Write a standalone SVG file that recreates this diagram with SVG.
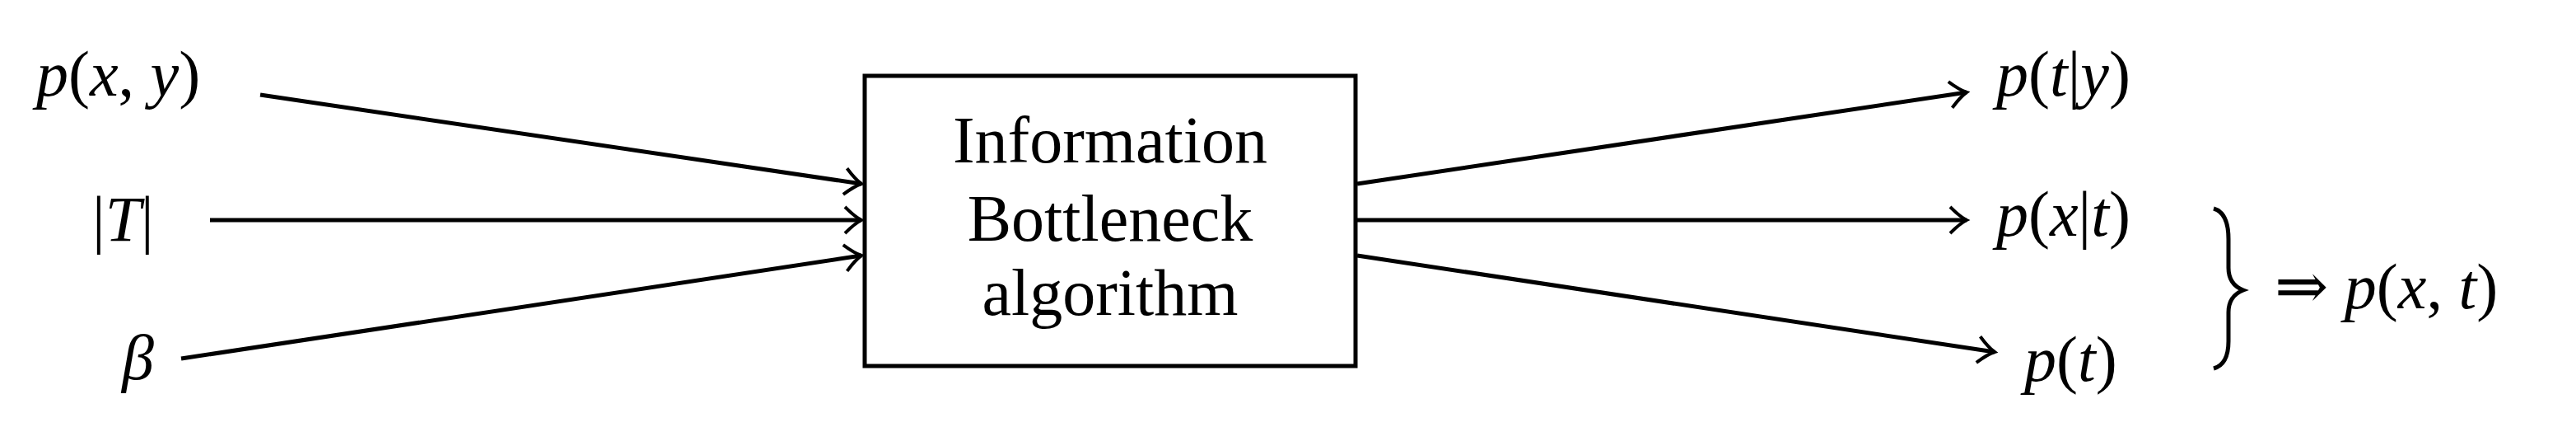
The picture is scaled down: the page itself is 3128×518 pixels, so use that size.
<svg xmlns="http://www.w3.org/2000/svg" width="3128" height="518" viewBox="0 0 3128 518">
<style>
text{font-family:"Liberation Serif","DejaVu Serif",serif;font-size:80px;fill:#000}
.m{font-size:78px}
.i{font-style:italic}
.c{stroke:#000;stroke-width:5;fill:none}
</style>
<defs>
<marker id="a" markerUnits="userSpaceOnUse" markerWidth="40" markerHeight="40" viewBox="-22 -20 26 40" refX="2" refY="0" orient="auto">
<path d="M-18,-16 Q-6,-4 2,0 Q-6,4 -18,16" fill="none" stroke="#000" stroke-width="4"/>
</marker>
</defs>
<rect x="0" y="0" width="3128" height="518" fill="#fff"/>
<g id="connectors">
<line class="c" x1="316" y1="115" x2="1046" y2="223" marker-end="url(#a)"/>
<line class="c" x1="255" y1="267" x2="1046" y2="267" marker-end="url(#a)"/>
<line class="c" x1="220" y1="435" x2="1046" y2="310" marker-end="url(#a)"/>
<line class="c" x1="1648" y1="223" x2="2388" y2="112" marker-end="url(#a)"/>
<line class="c" x1="1648" y1="267" x2="2388" y2="267" marker-end="url(#a)"/>
<line class="c" x1="1648" y1="310" x2="2422" y2="427" marker-end="url(#a)"/>
</g>
<g id="box">
<rect x="1050" y="92" width="596" height="352" fill="#fff" stroke="#000" stroke-width="5"/>
<text x="1348" y="197" text-anchor="middle">Information</text>
<text x="1348" y="292" text-anchor="middle">Bottleneck</text>
<text x="1348" y="382" text-anchor="middle">algorithm</text>
</g>
<g id="in-pxy"><text class="m" x="44" y="116"><tspan class="i">p</tspan>(<tspan class="i">x</tspan>, <tspan class="i">y</tspan>)</text></g>
<g id="in-T"><text class="m" x="112" y="292">|<tspan class="i">T</tspan>|</text></g>
<g id="in-beta"><text class="m i" x="148" y="460">β</text></g>
<g id="out-pty"><text class="m" x="2424" y="116"><tspan class="i">p</tspan>(<tspan class="i">t</tspan>|<tspan class="i">y</tspan>)</text></g>
<g id="out-pxt"><text class="m" x="2424" y="286"><tspan class="i">p</tspan>(<tspan class="i">x</tspan>|<tspan class="i">t</tspan>)</text></g>
<g id="out-pt"><text class="m" x="2458" y="462"><tspan class="i">p</tspan>(<tspan class="i">t</tspan>)</text></g>
<g id="joint">
<path d="M2688,253 Q2706,258 2706,290 L2706,325 Q2706,345 2724,352 Q2706,359 2706,379 L2706,414 Q2706,442 2688,447" fill="none" stroke="#000" stroke-width="5"/>
<text class="m" x="2762" y="374">⇒ <tspan class="i">p</tspan>(<tspan class="i">x</tspan>, <tspan class="i">t</tspan>)</text>
</g>
</svg>
